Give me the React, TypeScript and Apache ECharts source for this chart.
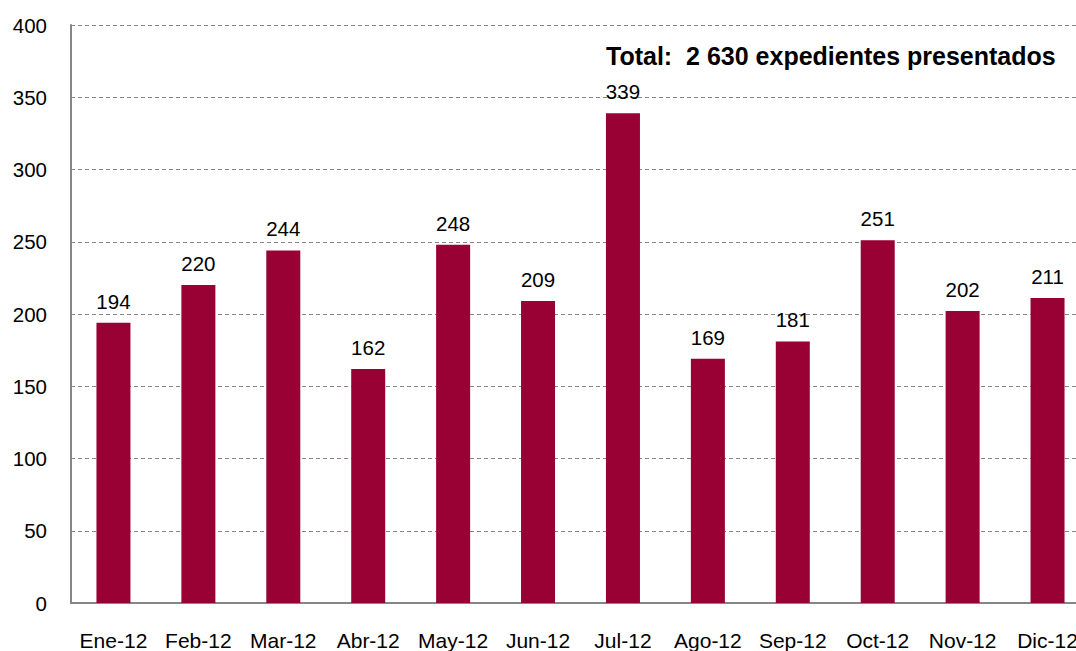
import React, { useEffect, useRef } from "react";
import * as echarts from "echarts";

const categories = ["Ene-12", "Feb-12", "Mar-12", "Abr-12", "May-12", "Jun-12", "Jul-12", "Ago-12", "Sep-12", "Oct-12", "Nov-12", "Dic-12"];
const values = [194, 220, 244, 162, 248, 209, 339, 169, 181, 251, 202, 211];
const titleText = "Total:  2 630 expedientes presentados";

export default function App() {
  const ref = useRef<HTMLDivElement>(null);
  useEffect(() => {
    if (!ref.current) return;
    const chart = echarts.init(ref.current, null, { renderer: "svg" });
    const font = "'Liberation Sans', Arial, sans-serif";
    chart.setOption({
      animation: false,
      backgroundColor: "#ffffff",
      grid: { left: 71, top: 25, right: 0, bottom: 48 },
      xAxis: {
        type: "category",
        data: categories,
        axisLine: { show: true, lineStyle: { color: "#868686", width: 2 } },
        axisTick: { show: false },
        axisLabel: { color: "#000", fontSize: 21, fontFamily: font, margin: 27, interval: 0 },
        splitLine: { show: false },
      },
      yAxis: {
        type: "value",
        min: 0,
        max: 400,
        interval: 50,
        axisLine: { show: true, lineStyle: { color: "#868686", width: 2 } },
        axisTick: { show: false },
        axisLabel: { color: "#000", fontSize: 20.5, fontFamily: font, margin: 24 },
        splitLine: { show: true, lineStyle: { color: "#868686", type: [4, 3], width: 1 } },
      },
      series: [
        {
          type: "bar",
          data: values,
          barWidth: 34,
          itemStyle: { color: "#990033" },
          label: { show: true, position: "top", distance: 11, color: "#000", fontSize: 20.5, fontFamily: font },
        },
      ],
      graphic: [
        {
          type: "text",
          left: 606,
          top: 43,
          style: { text: titleText, fill: "#000", font: `bold 25px ${font}` },
        },
      ],
    });
    return () => chart.dispose();
  }, []);
  return (
    <div style={{ position: "fixed", left: 0, top: 0, width: 1076, height: 651, overflow: "hidden", background: "#fff" }}>
      <div ref={ref} style={{ width: 1090, height: 651 }} />
    </div>
  );
}
